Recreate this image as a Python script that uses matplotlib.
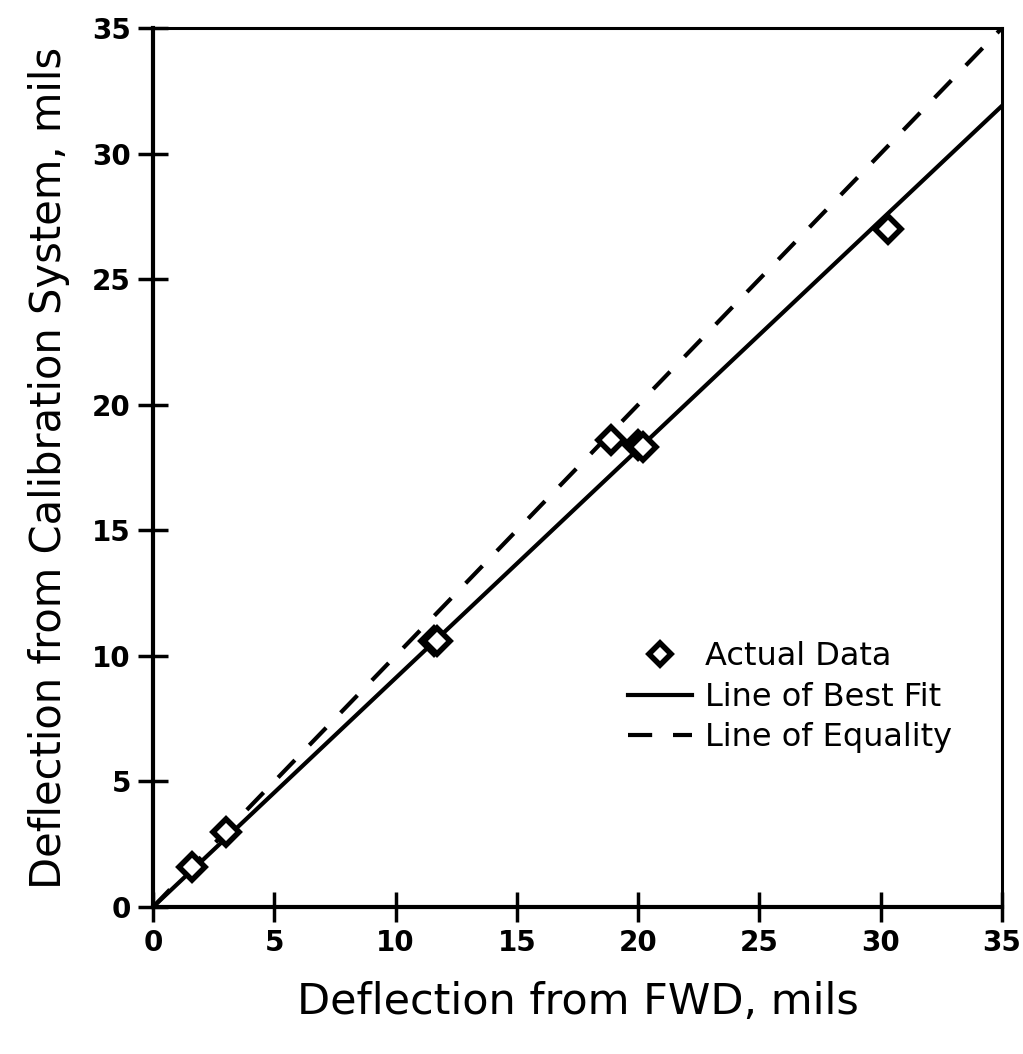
import numpy as np
import matplotlib.pyplot as plt

# Actual data (FWD vs calibration system, mils)
fwd = [1.6, 3.0, 11.6, 11.7, 18.9, 20.0, 20.2, 30.3]
calib = [1.6, 3.0, 10.6, 10.6, 18.6, 18.4, 18.3, 27.0]

# Line end points
fit_x = [0, 35]
fit_y = [0, 31.9]
eq_x = [0, 35]
eq_y = [0, 35]

ticks = [0, 5, 10, 15, 20, 25, 30, 35]

fig = plt.figure(figsize=(10.23, 10.54), dpi=100)
ax = fig.add_axes([0.1496, 0.1395, 0.8299, 0.834])

ax.plot(fit_x, fit_y, color='black', lw=3, label='Line of Best Fit')
ax.plot(eq_x, eq_y, color='black', lw=3, dashes=(5.8, 5), label='Line of Equality')
ax.plot(fwd, calib, ls='none', marker='D', ms=13, mfc='white', mec='black',
        mew=4, label='Actual Data', zorder=3)

ax.set_xlim(0, 35)
ax.set_ylim(0, 35)
ax.set_xticks(ticks)
ax.set_yticks(ticks)
ax.tick_params(direction='inout', length=22, width=2.5, labelsize=20, pad=5)
for lbl in ax.get_xticklabels() + ax.get_yticklabels():
    lbl.set_fontweight('bold')

for side in ['left', 'bottom']:
    ax.spines[side].set_linewidth(3)
for side in ['top', 'right']:
    ax.spines[side].set_linewidth(2.2)

ax.set_xlabel('Deflection from FWD, mils', fontsize=31, labelpad=17)
ax.set_ylabel('Deflection from Calibration System, mils', fontsize=30, labelpad=16)

h, l = ax.get_legend_handles_labels()
order = [2, 0, 1]
ax.legend([h[i] for i in order], [l[i] for i in order], loc='lower right',
          bbox_to_anchor=(0.975, 0.142), frameon=False, fontsize=23,
          handlelength=2.0, handletextpad=0.4, labelspacing=0.3, markerscale=0.9)

fig.savefig('out.png', dpi=100)
